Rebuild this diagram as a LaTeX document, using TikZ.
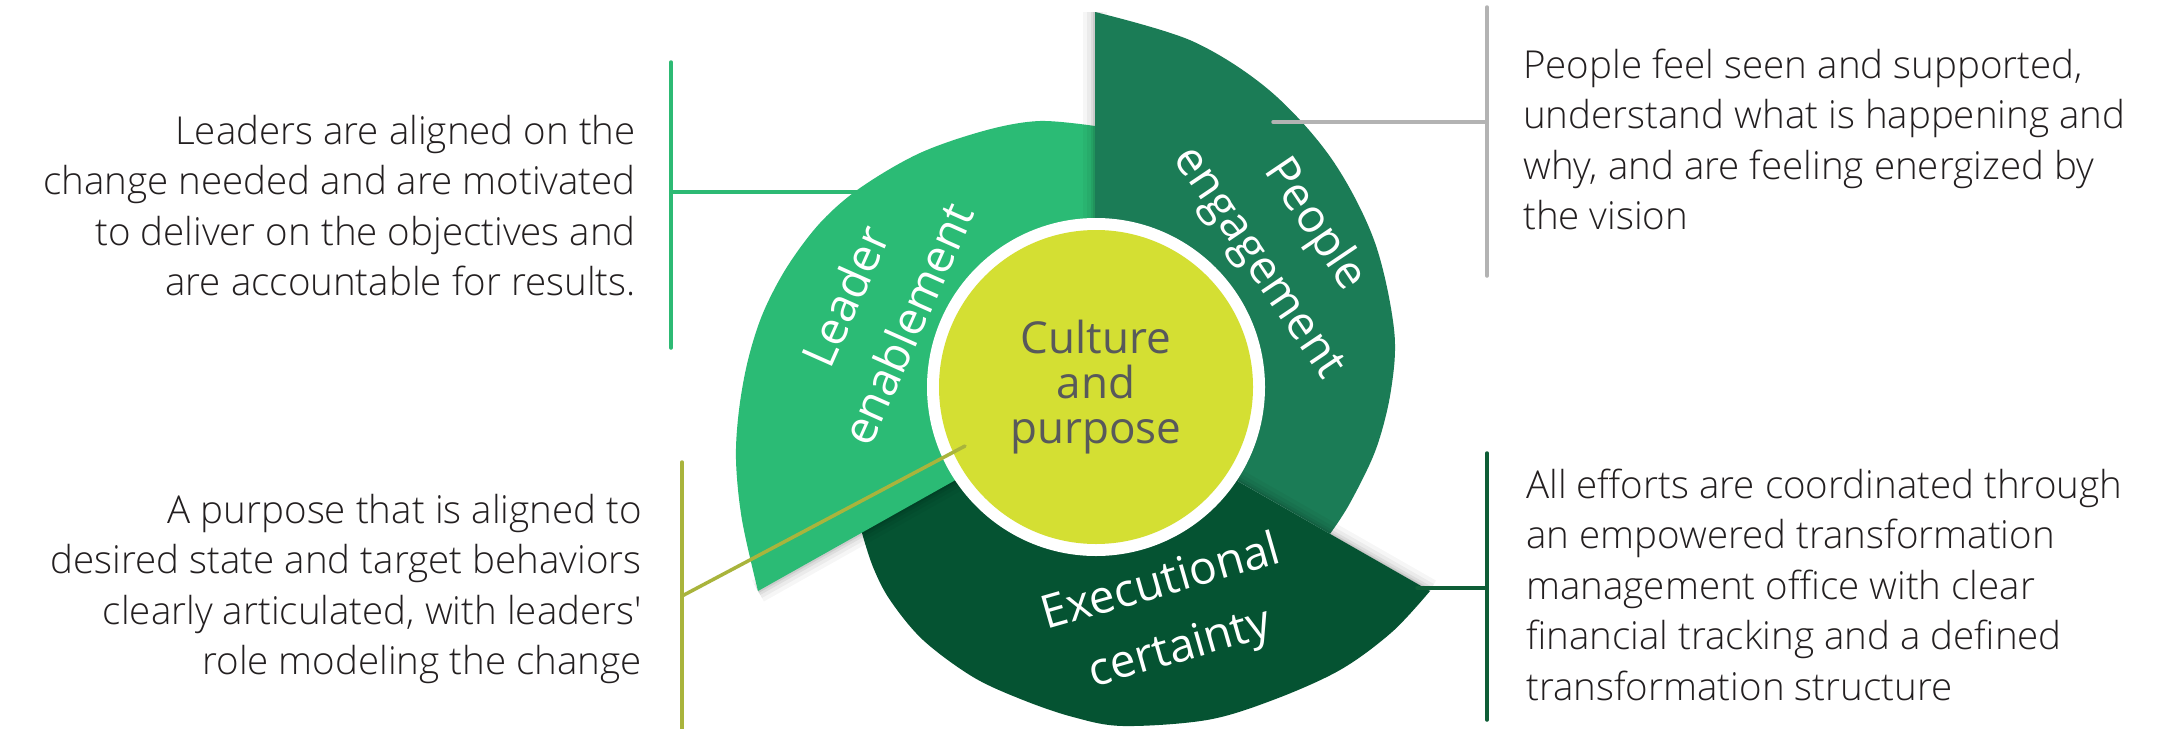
\documentclass[tikz,border=0pt]{standalone}
\usepackage{fontspec}
\IfFontExistsTF{Open Sans Light}{\newfontfamily\descfont{Open Sans Light}}{\newfontfamily\descfont{Open Sans}}
\newfontfamily\labfont{Open Sans}
\definecolor{leadc}{HTML}{2BBB75}
\definecolor{peopc}{HTML}{1B7C56}
\definecolor{execc}{HTML}{055332}
\definecolor{corec}{HTML}{D4DF33}
\definecolor{coretext}{HTML}{58595B}
\definecolor{desctext}{HTML}{231F20}
\definecolor{lgreen}{HTML}{2DBA74}
\definecolor{lgray}{HTML}{B3B3B3}
\definecolor{lolive}{HTML}{A9B43C}
\definecolor{ldark}{HTML}{0E5D36}
\begin{document}
\begin{tikzpicture}[x=1pt,y=-1pt,
  desc/.style={font=\descfont\fontsize{38.5}{50.5}\selectfont, text=desctext, inner sep=0pt},
  seglab/.style={font=\labfont\fontsize{46}{68}\selectfont, text=white, align=center, inner sep=0pt},
  conn/.style={line width=3.5pt, line cap=round},
  shadowstroke/.style={black, line cap=butt}]
\useasboundingbox (0,0) rectangle (2178,728);
\fill[white] (0,0) rectangle (2178,728);
\coordinate (C) at (1096,387);

% Executional certainty segment
\fill[execc] (850,515) -- plot[smooth,tension=0.55] coordinates {(862,533) (873,567) (890,600) (923,640) (973,677) (1023,700) (1073,717) (1123,726) (1207,720) (1273,700) (1340,670) (1392,632) (1430,591)} -- (1150,431) -- (1000,440) -- cycle;

% shadow of leader onto executional
\foreach \w/\o in {24/0.035,16/0.045,9/0.06,4/0.08}
  \draw[shadowstroke, line width=\w pt, opacity=\o] (758,591) -- (1000,455);

% Leader enablement segment
\fill[leadc] (1110,400) -- (1110,127) -- plot[smooth,tension=0.55] coordinates {(1095,126) (1040,121) (987,130) (920,153) (860,188) (820,223) (787,267) (763,313) (748,360) (739,410) (736,460) (742,520) (758,591)} -- (1000,455) -- cycle;

% shadow of people onto leader
\foreach \w/\o in {24/0.035,16/0.045,9/0.06,4/0.08}
  \draw[shadowstroke, line width=\w pt, opacity=\o] (1095,12) -- (1095,400);

% People engagement segment
\fill[peopc] (1095,400) -- plot[smooth,tension=0.55] coordinates {(1095,12) (1192,41) (1269,90) (1331,158) (1374,240) (1394,329) (1391,390) (1376,449) (1350,503) (1330,533.9)} -- (1150,431) -- cycle;

% shadow of executional onto people
\begin{scope}
  \clip (1080,390.9) -- (1520,642.4) -- (1520,250) -- (1080,250) -- cycle;
  \foreach \w/\o in {24/0.035,16/0.045,9/0.06,4/0.08}
    \draw[shadowstroke, line width=\w pt, opacity=\o] (1120,414) -- (1430,591);
\end{scope}

% core
\node[circle, fill=white, minimum size=338pt, inner sep=0pt] (ring) at (C) {};
\node[circle, fill=corec, minimum size=314pt, inner sep=0pt, align=center,
      font=\labfont\fontsize{44}{45}\selectfont, text=coretext] (core) at (C) {Culture\\and\\purpose};

% segment labels
\node[seglab, rotate=66] (lead) at (876,310) {Leader\\enablement};
\node[seglab, rotate=-56] (peop) at (1286,244) {People\\engagement};
\node[seglab, rotate=16] (exec) at (1171,617) {Executional\\certainty};

% descriptions
\node[desc, align=right, anchor=north east] (dLT) at (636,112) {\rule{0pt}{32pt}Leaders are aligned on the\\change needed and are motivated\\to deliver on the objectives and\\are accountable for results.};
\node[desc, align=right, anchor=north east] (dLB) at (642,491) {\rule{0pt}{32pt}A purpose that is aligned to\\desired state and target behaviors\\clearly articulated, with leaders'\\role modeling the change};
\node[desc, align=left, anchor=north west] (dRT) at (1523,46) {\rule{0pt}{32pt}People feel seen and supported,\\understand what is happening and\\why, and are feeling energized by\\the vision};
\node[desc, align=left, anchor=north west] (dRB) at (1526,466) {\rule{0pt}{32pt}All efforts are coordinated through\\an empowered transformation\\management office with clear\\financial tracking and a defined\\transformation structure};

% connectors
\coordinate (gT) at (671,62);   \coordinate (gB) at (671,348);
\coordinate (gM) at (671,192);  \coordinate (gE) at (858,192);
\coordinate (yT) at (1487,7);   \coordinate (yB) at (1487,276);
\coordinate (yM) at (1487,122); \coordinate (yE) at (1273,122);
\coordinate (kT) at (1487,453); \coordinate (kB) at (1487,720);
\coordinate (kM) at (1487,588); \coordinate (kE) at (1417,588);
\coordinate (oT) at (682,462);  \coordinate (oB) at (682,730);
\coordinate (oM) at (682,596);  \coordinate (oE) at (965,446);

\draw[conn, lgreen] (gT) -- (gB);
\draw[conn, lgreen] (gM) -- (gE);
\draw[conn, lgray] (yT) -- (yB);
\draw[conn, lgray] (yM) -- (yE);
\draw[conn, ldark] (kT) -- (kB);
\draw[conn, ldark] (kM) -- (kE);
\draw[conn, lolive] (oT) -- (oB);
\draw[conn, lolive] (oM) -- (oE);
\end{tikzpicture}
\end{document}
